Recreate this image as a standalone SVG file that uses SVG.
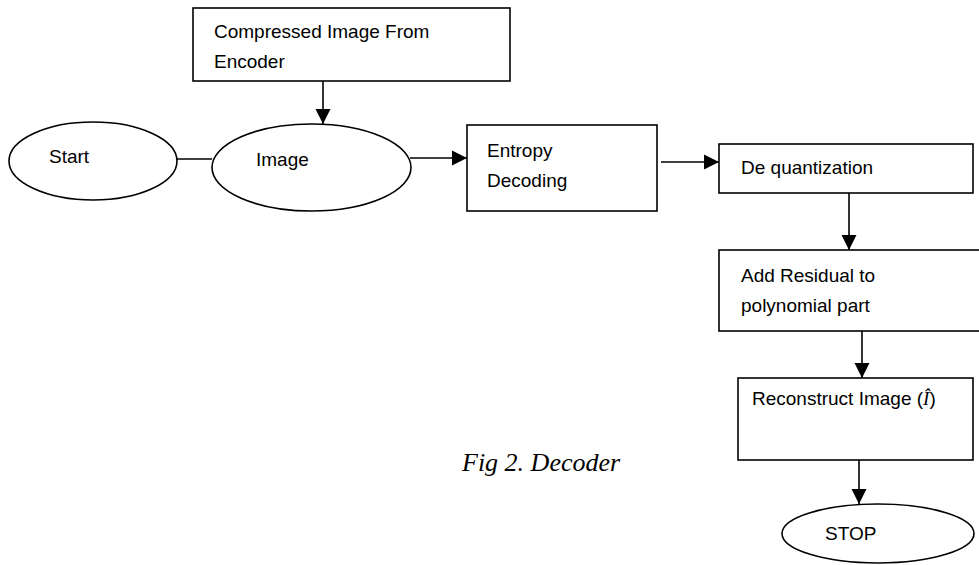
<svg xmlns="http://www.w3.org/2000/svg" width="979" height="565" viewBox="0 0 979 565">
<defs>
<style>
.box{fill:#fff;stroke:#000;stroke-width:1.6}
.lbl{font-family:"Liberation Sans",Arial,sans-serif;font-size:19px;fill:#000}
.cap{font-family:"Liberation Serif","Times New Roman",serif;font-style:italic;font-size:26px;fill:#000}
.con{stroke:#000;stroke-width:1.6;fill:none}
</style>
<marker id="ah" markerUnits="userSpaceOnUse" markerWidth="16" markerHeight="16" viewBox="0 0 16 16" refX="15" refY="8" orient="auto">
<path d="M0,0.5 L15,8 L0,15.5 Z" fill="#000"/>
</marker>
</defs>
<rect width="979" height="565" fill="#fff"/>
<g id="compressed">
<rect class="box" x="193" y="8" width="317" height="73"/>
<text class="lbl" x="214" y="38">Compressed Image From</text>
<text class="lbl" x="214" y="68">Encoder</text>
</g>
<g id="start">
<ellipse class="box" cx="93" cy="161" rx="84" ry="39"/>
<text class="lbl" x="49" y="163">Start</text>
</g>
<g id="image">
<ellipse class="box" cx="311.5" cy="167.5" rx="99.5" ry="43.5"/>
<text class="lbl" x="256" y="166">Image</text>
</g>
<g id="entropy">
<rect class="box" x="467" y="125" width="190" height="86"/>
<text class="lbl" x="487" y="157">Entropy</text>
<text class="lbl" x="487" y="187">Decoding</text>
</g>
<g id="dequant">
<rect class="box" x="719" y="144" width="254" height="49"/>
<text class="lbl" x="741" y="174">De quantization</text>
</g>
<g id="residual">
<rect class="box" x="719" y="250" width="270" height="81"/>
<text class="lbl" x="741" y="282">Add Residual to</text>
<text class="lbl" x="741" y="312">polynomial part</text>
</g>
<g id="reconstruct">
<rect class="box" x="738" y="378" width="235" height="82"/>
<text class="lbl" x="752" y="405">Reconstruct Image (<tspan font-family="'Liberation Serif',serif" font-style="italic">Î</tspan>)</text>
</g>
<g id="stop">
<ellipse class="box" cx="878" cy="533.5" rx="96" ry="29.5"/>
<text class="lbl" x="825" y="540">STOP</text>
</g>
<g id="caption">
<text class="cap" x="462" y="471">Fig 2. Decoder</text>
</g>
<g id="connectors">
<line class="con" x1="323" y1="81" x2="323" y2="124" marker-end="url(#ah)"/>
<line class="con" x1="177" y1="159" x2="212" y2="159"/>
<line class="con" x1="410" y1="158" x2="467" y2="158" marker-end="url(#ah)"/>
<line class="con" x1="661" y1="162" x2="719" y2="162" marker-end="url(#ah)"/>
<line class="con" x1="849" y1="193" x2="849" y2="250" marker-end="url(#ah)"/>
<line class="con" x1="862" y1="331" x2="862" y2="378" marker-end="url(#ah)"/>
<line class="con" x1="859" y1="460" x2="859" y2="504" marker-end="url(#ah)"/>
</g>
</svg>
